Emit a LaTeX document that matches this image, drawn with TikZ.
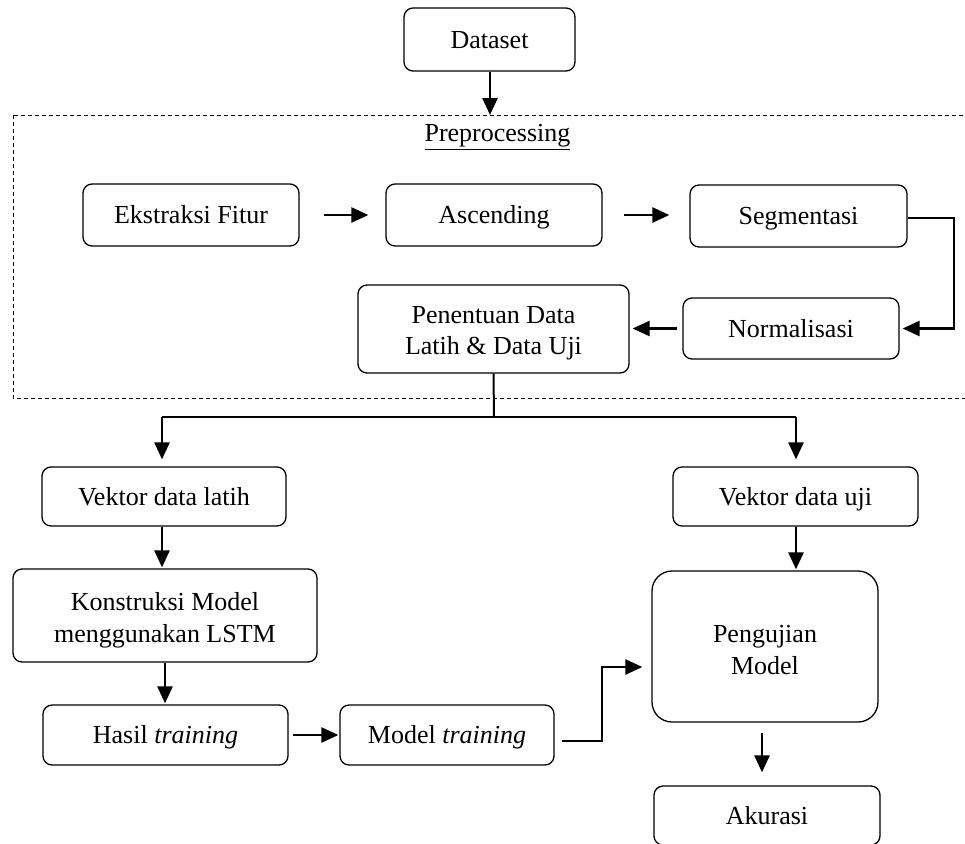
\documentclass[tikz,border=0pt]{standalone}
\usepackage{fontspec}
\setmainfont{Liberation Serif}
\usetikzlibrary{arrows.meta,calc}
\begin{document}
\begin{tikzpicture}[x=1pt,y=-1pt,
 box/.style={draw, rounded corners=9pt, line width=1.3pt, align=center, inner sep=0pt, font=\fontsize{26}{31.5}\selectfont},
 one/.style={text height=21.3pt, text depth=4pt},
 arr/.style={line width=2.6pt, -{Triangle[length=17pt,width=15pt]}},
 ln/.style={line width=2pt}]
\clip (0,0) rectangle (965,843);
\fill[white] (0,0) rectangle (965,843);
\draw[line width=1pt, dash pattern=on 4pt off 3pt] (13,115) rectangle (975,398);
\node[font=\fontsize{26}{31.5}\selectfont, inner sep=0pt] (pp) at (497.5,137) {\underline{Preprocessing}};

\node[box, one, minimum width=171pt, minimum height=63pt] (ds) at (489.5,39.5) {Dataset};
\node[box, one, minimum width=216pt, minimum height=62pt] (ek) at (191,215) {Ekstraksi Fitur};
\node[box, one, minimum width=216pt, minimum height=62pt] (asc) at (494,215) {Ascending};
\node[box, one, minimum width=217pt, minimum height=62pt] (seg) at (798.5,216) {Segmentasi};
\node[box, one, minimum width=216pt, minimum height=61pt] (norm) at (791,328.5) {Normalisasi};
\node[box, minimum width=271pt, minimum height=88pt] (pen) at (493.5,329) {\rule{0pt}{26pt}Penentuan Data\\Latih \& Data Uji};
\node[box, one, minimum width=244pt, minimum height=59pt] (vl) at (164,496.5) {Vektor data latih};
\node[box, one, minimum width=245pt, minimum height=59pt] (vu) at (795.5,496.5) {Vektor data uji};
\node[box, minimum width=304pt, minimum height=93pt] (kons) at (165,615.5) {\rule{0pt}{28pt}Konstruksi Model\\menggunakan LSTM};
\node[box, one, minimum width=245pt, minimum height=60pt] (hasil) at (165.5,735) {Hasil \textit{training}};
\node[box, one, minimum width=214pt, minimum height=60pt] (model) at (447,735) {Model \textit{training}};
\node[box, rounded corners=20pt, minimum width=226pt, minimum height=151pt] (peng) at (765,646.5) {\rule{0pt}{24pt}Pengujian\\Model};
\node[box, one, minimum width=226pt, minimum height=59pt] (ak) at (767,815.5) {Akurasi};

\coordinate (pt) at (490,115);
\draw[arr] (ds.south -| pt) -- (pt);
\draw[arr, shorten <=24pt, shorten >=17pt] (ek.east) -- (ek.east -| asc.west);
\draw[arr, shorten <=21pt, shorten >=20pt] (asc.east) -- (asc.east -| seg.west);
\coordinate (sr) at (954,218);
\draw[arr, shorten >=3pt] (seg.east |- sr) -- (sr) |- (norm.east);
\draw[arr, shorten <=5pt, shorten >=3pt] (norm.west) -- (norm.west -| pen.east);
\coordinate (jn) at (494,417);
\coordinate (jl) at (162,417);
\coordinate (jr) at (796,417);
\draw[ln] (pen.south) -- (jn);
\draw[ln] (jl) -- (jr);
\draw[arr, shorten >=7pt] (jl) -- (jl |- vl.north);
\draw[arr, shorten >=7pt] (jr) -- (jr |- vu.north);
\draw[arr, shorten >=1pt] (vl.south -| jl) -- (jl |- kons.north);
\draw[arr, shorten >=1pt] (kons.south) -- (kons.south |- hasil.north);
\draw[arr, shorten <=4pt, shorten >=1pt] (hasil.east) -- (model.west);
\coordinate (m1) at (602,741);
\coordinate (m2) at (602,667);
\draw[arr, shorten <=7pt, shorten >=9pt] (model.east |- m1) -- (m1) -- (m2) -- (m2 -| peng.west);
\draw[arr, shorten >=1pt] (vu.south -| jr) -- (jr |- peng.north);
\draw[arr, shorten <=10pt, shorten >=13pt] ($(peng.south)+(-3,0)$) -- ($(ak.north)+(-5,0)$);
\end{tikzpicture}
\end{document}
